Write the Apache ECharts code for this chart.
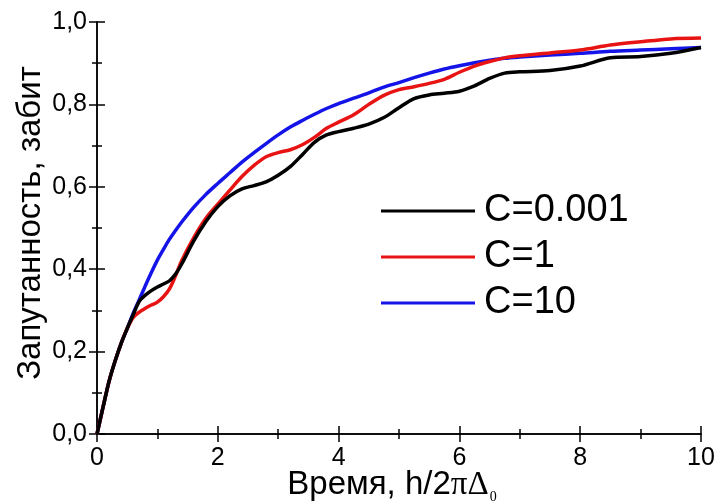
<!DOCTYPE html>
<html>
<head>
<meta charset="utf-8">
<script src="https://cdn.jsdelivr.net/npm/echarts@6/dist/echarts.min.js"></script>
<style>
  html, body { margin: 0; padding: 0; background: #fff; }
  #chart { width: 720px; height: 504px; }
</style>
</head>
<body>
<div id="chart"></div>
<script>
// Time grid, in units of h/2πΔ0
const time = [0, 0.1, 0.2, 0.3, 0.4, 0.5, 0.6, 0.7, 0.8, 0.9, 1.0, 1.1, 1.2, 1.3, 1.4, 1.6, 1.8, 2.0,
  2.2, 2.4, 2.6, 2.8, 3.0, 3.2, 3.4, 3.6, 3.8, 4.0, 4.25, 4.5, 4.75, 5.0, 5.25, 5.5, 5.75,
  6.0, 6.25, 6.5, 6.75, 7.0, 7.5, 8.0, 8.5, 9.0, 9.5, 10];

// Entanglement (ebits) for each coupling value C
const entC0001 = [0, 0.065, 0.128, 0.177, 0.22, 0.256, 0.29, 0.322, 0.337, 0.348, 0.357, 0.364, 0.372, 0.388, 0.412,
  0.468, 0.515, 0.552, 0.578, 0.595, 0.603, 0.612, 0.628, 0.649, 0.678, 0.708, 0.726, 0.734, 0.742, 0.752, 0.768,
  0.792, 0.814, 0.823, 0.827, 0.832, 0.845, 0.863, 0.876, 0.879, 0.882, 0.893, 0.913, 0.916, 0.924, 0.938];
const entC1 = [0, 0.065, 0.128, 0.177, 0.22, 0.256, 0.283, 0.296, 0.305, 0.313, 0.32, 0.333, 0.352, 0.384, 0.42,
  0.476, 0.523, 0.558, 0.592, 0.625, 0.652, 0.673, 0.683, 0.69, 0.702, 0.72, 0.742, 0.757, 0.775, 0.8, 0.822,
  0.836, 0.843, 0.851, 0.861, 0.878, 0.893, 0.904, 0.913, 0.918, 0.925, 0.932, 0.944, 0.952, 0.959, 0.961];
const entC10 = [0, 0.065, 0.128, 0.177, 0.22, 0.256, 0.293, 0.326, 0.36, 0.392, 0.422, 0.448, 0.473, 0.494, 0.514,
  0.55, 0.581, 0.608, 0.634, 0.66, 0.683, 0.705, 0.726, 0.745, 0.761, 0.776, 0.79, 0.802, 0.815, 0.828, 0.842,
  0.853, 0.865, 0.876, 0.886, 0.894, 0.901, 0.907, 0.912, 0.915, 0.92, 0.924, 0.929, 0.932, 0.935, 0.938];

const seriesNames = ['C=0.001', 'C=1', 'C=10'];
const seriesColors = ['#000000', '#e81414', '#1414e8'];
const seriesValues = [entC0001, entC1, entC10];

const FONT = 'Liberation Sans, Arial, sans-serif';
const SERIF = 'Liberation Serif, Times New Roman, serif';

const chart = echarts.init(document.getElementById('chart'), null, { renderer: 'canvas' });

const axisLine = { show: true, lineStyle: { color: '#000', width: 1.5 } };
const axisTick = { show: true, inside: true, length: 8, lineStyle: { color: '#000', width: 1.5 } };
const minorTick = { show: true, splitNumber: 2, length: 5, lineStyle: { color: '#000', width: 1.5 } };

chart.setOption({
  backgroundColor: '#fff',
  animation: false,
  grid: { left: 97, right: 19, top: 22, bottom: 70, containLabel: false, outerBoundsMode: 'none' },
  legend: {
    orient: 'vertical',
    left: 376,
    top: 186,
    icon: 'rect',
    itemWidth: 94,
    itemHeight: 3,
    itemGap: 6,
    data: seriesNames,
    textStyle: { fontFamily: FONT, fontSize: 38, color: '#000', lineHeight: 40, padding: [0, 0, 0, 4] }
  },
  xAxis: [
    {
      type: 'value', position: 'bottom', min: 0, max: 10, interval: 2,
      axisLine, axisTick, minorTick,
      splitLine: { show: false },
      axisLabel: { fontFamily: FONT, fontSize: 25, color: '#000', margin: 12 },
      name: '{a|Время, h/2}{g|πΔ}{s|0}',
      nameLocation: 'middle',
      nameMoveOverlap: false,
      nameGap: 32,
      nameTextStyle: {
        padding: [0, 14, 0, 0],
        rich: {
          a: { fontFamily: FONT, fontSize: 33, color: '#000' },
          g: { fontFamily: SERIF, fontSize: 33, color: '#000' },
          s: { fontFamily: SERIF, fontSize: 14, color: '#000', padding: [24, 0, 0, 1] }
        }
      }
    },
    {
      type: 'value', position: 'top', min: 0, max: 10, interval: 2,
      axisLine, axisTick, minorTick,
      splitLine: { show: false }, axisLabel: { show: false }
    }
  ],
  yAxis: [
    {
      type: 'value', position: 'left', min: 0, max: 1, interval: 0.2,
      axisLine, axisTick, minorTick,
      splitLine: { show: false },
      axisLabel: {
        fontFamily: FONT, fontSize: 25, color: '#000', margin: 10,
        formatter: v => v.toFixed(1).replace('.', ',')
      },
      name: 'Запутанность, забит',
      nameLocation: 'middle',
      nameMoveOverlap: false,
      nameRotate: 90,
      nameGap: 50,
      nameTextStyle: { fontFamily: FONT, fontSize: 33, color: '#000', padding: [0, 0, 0, 10] }
    },
    {
      type: 'value', position: 'right', min: 0, max: 1, interval: 0.2,
      axisLine, axisTick, minorTick,
      splitLine: { show: false }, axisLabel: { show: false }
    }
  ],
  series: seriesNames.map((name, i) => ({
    name,
    type: 'line',
    xAxisIndex: 0,
    yAxisIndex: 0,
    smooth: 0.3,
    symbol: 'none',
    z: 3 - i,
    lineStyle: { color: seriesColors[i], width: 3.5 },
    itemStyle: { color: seriesColors[i] },
    data: time.map((t, k) => [t, seriesValues[i][k]])
  }))
});
</script>
</body>
</html>
